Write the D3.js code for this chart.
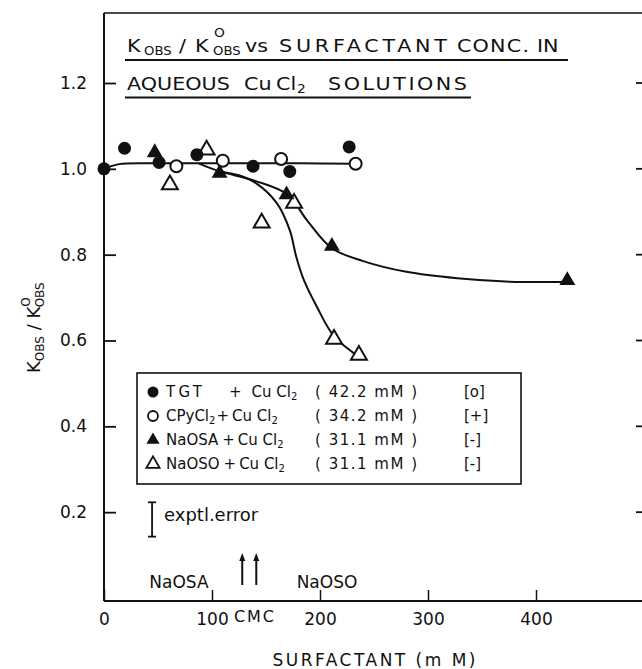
<!DOCTYPE html>
<html>
<head>
<meta charset="utf-8">
<script src="https://cdn.jsdelivr.net/npm/d3@7"></script>
<style>
  body { margin: 0; background: #fff; }
  svg { display: block; }
  text { font-family: "DejaVu Sans", sans-serif; fill: #111; }
</style>
</head>
<body>
<svg id="chart" width="642" height="669"></svg>
<script>
// Surfactant concentration (mM) and relative rate constant kobs / kobs°
const tgtConc  = [0, 19, 51, 86, 138, 172, 227];
const tgtRatio = [1.000, 1.048, 1.015, 1.033, 1.006, 0.994, 1.051];
const cpyConc  = [67, 110, 164, 233];
const cpyRatio = [1.006, 1.019, 1.023, 1.012];
const osaConc  = [47, 107, 169, 211, 429];
const osaRatio = [1.038, 0.990, 0.940, 0.820, 0.740];
const osoConc  = [61, 95, 146, 176, 213, 236];
const osoRatio = [0.963, 1.044, 0.874, 0.920, 0.603, 0.566];

// Hand-drawn trend curves
const flatConc    = [0, 14, 50, 120, 180, 233];
const flatRatio   = [1.000, 1.011, 1.013, 1.013, 1.013, 1.012];
const osaFitConc  = [88, 107, 140, 170, 188, 211, 240, 280, 327, 376, 429];
const osaFitRatio = [1.012, 0.994, 0.972, 0.940, 0.880, 0.815, 0.785, 0.760, 0.745, 0.737, 0.737];
const osoFitConc  = [107, 125, 141, 160, 172, 178, 185, 197, 213, 236];
const osoFitRatio = [0.994, 0.985, 0.966, 0.920, 0.857, 0.795, 0.741, 0.679, 0.610, 0.562];

// Critical micelle concentrations and experimental error
const cmcConc  = [128, 141];
const cmcNames = ["NaOSA", "NaOSO"];
const errConc = 44.5, errRatio = 0.183, errHalf = 0.040;

// Axis ticks
const xTicks = [0, 100, 200, 300, 400];
const yTicks = [0.2, 0.4, 0.6, 0.8, 1.0, 1.2];

// Legend
const legendNames  = ["TGT", "CPyCl", "NaOSA", "NaOSO"];
const legendConc   = ["42.2", "34.2", "31.1", "31.1"];
const legendCharge = ["[o]", "[+]", "[-]", "[-]"];

const svg = d3.select("#chart");
const x = d3.scaleLinear([0, 500], [104, 644]);
const y = d3.scaleLinear([0, 1.2], [598, 83]);
const yTop = 1.363, yBottom = -0.007;
const ink = "#111";

// Frame
const frame = svg.append("g").attr("stroke", ink).attr("fill", "none").attr("stroke-width", 2);
frame.append("line").attr("x1", x(0)).attr("x2", x(0)).attr("y1", y(yTop)).attr("y2", y(yBottom));
frame.append("line").attr("x1", x(0)).attr("x2", x(500)).attr("y1", y(yBottom)).attr("y2", y(yBottom));
frame.append("line").attr("x1", x(0)).attr("x2", x(500)).attr("y1", y(yTop)).attr("y2", y(yTop)).attr("stroke-width", 1.6);

// Left axis with inward ticks
const yAxis = svg.append("g").attr("transform", `translate(${x(0)},0)`)
  .call(d3.axisLeft(y).tickValues(yTicks).tickSize(-12).tickPadding(17).tickFormat(d3.format(".1f")));
yAxis.select(".domain").remove();
yAxis.selectAll(".tick line").attr("stroke", ink).attr("stroke-width", 1.8);
yAxis.selectAll(".tick text").attr("font-size", 17).attr("font-family", "DejaVu Sans").attr("fill", ink);

// Right-hand inward ticks
svg.append("g").selectAll("line").data(yTicks).join("line")
  .attr("x1", x(500) - 8).attr("x2", x(500)).attr("y1", d => y(d)).attr("y2", d => y(d))
  .attr("stroke", ink).attr("stroke-width", 1.8);

// Bottom axis
const xAxis = svg.append("g").attr("transform", `translate(0,${y(yBottom)})`)
  .call(d3.axisBottom(x).tickValues(xTicks).tickSize(-11).tickPadding(12).tickFormat(d3.format("d")));
xAxis.select(".domain").remove();
xAxis.selectAll(".tick line").attr("stroke", ink).attr("stroke-width", 1.5);
xAxis.selectAll(".tick text").attr("font-size", 17).attr("font-family", "DejaVu Sans").attr("fill", ink);

// Axis titles
svg.append("text").attr("x", x(250)).attr("y", 666).attr("text-anchor", "middle")
  .attr("font-size", 17).attr("textLength", 203).attr("lengthAdjust", "spacing")
  .text("SURFACTANT (m M)");

const yl = svg.append("text").attr("transform", `translate(40,${y(0.63)}) rotate(-90)`)
  .attr("text-anchor", "middle").attr("font-size", 18);
yl.append("tspan").text("K");
yl.append("tspan").attr("font-size", 12).attr("dy", 4).text("OBS");
yl.append("tspan").attr("dy", -4).text(" / K");
yl.append("tspan").attr("font-size", 12).attr("dy", -10).text("O");
yl.append("tspan").attr("font-size", 12).attr("dx", -10).attr("dy", 14).text("OBS");

// Title block: lettering widened horizontally, spaced out only where there is room
const stretch = 1.15;
function word(g, x0, y0, txt, size, len) {
  const t = g.append("text").attr("transform", `translate(${x0},${y0}) scale(${stretch},1)`)
    .attr("font-size", size).text(txt);
  if (len && t.node().getComputedTextLength() * stretch < len)
    t.attr("textLength", len / stretch).attr("lengthAdjust", "spacing");
  return t;
}
const title = svg.append("g");
word(title, 127, 52, "K", 18);
word(title, 144, 55, "OBS", 11.5, 24);
word(title, 179, 52, "/", 18);
word(title, 195, 52, "K", 18);
word(title, 214, 37, "O", 12);
word(title, 213, 55, "OBS", 11.5, 24);
word(title, 245, 52, "vs", 18);
word(title, 279, 52, "SURFACTANT", 18, 168);
word(title, 457, 52, "CONC.", 18, 72);
word(title, 537, 52, "IN", 18);
title.append("line").attr("x1", 125).attr("x2", 568).attr("y1", 60).attr("y2", 60)
  .attr("stroke", ink).attr("stroke-width", 2);

word(title, 127, 90, "AQUEOUS", 18, 100);
word(title, 244, 90, "Cu", 18);
word(title, 276, 90, "Cl", 18);
word(title, 297, 93, "2", 12);
word(title, 328, 90, "SOLUTIONS", 18, 139);
title.append("line").attr("x1", 125).attr("x2", 471).attr("y1", 97.5).attr("y2", 97.5)
  .attr("stroke", ink).attr("stroke-width", 2);

// Sequential text pieces
function chain(g, x0, y0, pieces) {
  let cx = x0;
  pieces.forEach(p => {
    const t = g.append("text").attr("x", cx).attr("y", y0 + (p.dy || 0))
      .attr("font-size", p.size).text(p.t);
    if (p.len) t.attr("textLength", p.len).attr("lengthAdjust", "spacing");
    cx += (p.len || t.node().getComputedTextLength()) + (p.gap || 0);
  });
  return cx;
}

// Trend curves
const curve = d3.line().x(d => x(d[0])).y(d => y(d[1])).curve(d3.curveCatmullRom.alpha(0.5));
const curves = svg.append("g").attr("fill", "none").attr("stroke", ink).attr("stroke-width", 2);
curves.append("path").attr("d", curve(d3.zip(flatConc, flatRatio)));
curves.append("path").attr("d", curve(d3.zip(osaFitConc, osaFitRatio)));
curves.append("path").attr("d", curve(d3.zip(osoFitConc, osoFitRatio)));

// Markers
const tri = d3.symbol(d3.symbolTriangle, 110);
const triSmall = d3.symbol(d3.symbolTriangle, 75);
const marks = svg.append("g");
marks.selectAll(".oso").data(d3.zip(osoConc, osoRatio)).join("path")
  .attr("d", tri).attr("transform", d => `translate(${x(d[0])},${y(d[1])})`)
  .attr("fill", "#fff").attr("stroke", ink).attr("stroke-width", 2);
marks.selectAll(".osa").data(d3.zip(osaConc, osaRatio)).join("path")
  .attr("d", tri).attr("transform", d => `translate(${x(d[0])},${y(d[1])})`)
  .attr("fill", ink);
marks.selectAll(".cpy").data(d3.zip(cpyConc, cpyRatio)).join("circle")
  .attr("cx", d => x(d[0])).attr("cy", d => y(d[1])).attr("r", 6)
  .attr("fill", "#fff").attr("stroke", ink).attr("stroke-width", 2);
marks.selectAll(".tgt").data(d3.zip(tgtConc, tgtRatio)).join("circle")
  .attr("cx", d => x(d[0])).attr("cy", d => y(d[1])).attr("r", 6.5)
  .attr("fill", ink);

// Legend
const lg = svg.append("g");
lg.append("rect").attr("x", 137).attr("y", 373).attr("width", 384).attr("height", 111)
  .attr("fill", "#fff").attr("stroke", ink).attr("stroke-width", 1.6);
legendNames.forEach((name, i) => {
  const cy = 392 + i * 24;
  const base = cy + 5;
  if (i === 0) lg.append("circle").attr("cx", 153).attr("cy", cy).attr("r", 5.5).attr("fill", ink);
  if (i === 1) lg.append("circle").attr("cx", 153).attr("cy", cy).attr("r", 5).attr("fill", "none").attr("stroke", ink).attr("stroke-width", 1.8);
  if (i === 2) lg.append("path").attr("d", triSmall).attr("transform", `translate(153,${cy})`).attr("fill", ink);
  if (i === 3) lg.append("path").attr("d", triSmall).attr("transform", `translate(153,${cy})`).attr("fill", "none").attr("stroke", ink).attr("stroke-width", 1.8);
  let pieces;
  if (i === 0) pieces = [{t: "TGT", size: 15, len: 36}];
  else if (i === 1) pieces = [{t: "CPyCl", size: 15, gap: 0}, {t: "2", size: 10, dy: 3, gap: 1}];
  else pieces = [{t: name, size: 15, gap: 4}];
  let cx = chain(lg, 166, base, pieces);
  if (i === 0) cx = 229;
  chain(lg, cx, base, [
    {t: "+", size: 15, gap: i === 0 ? 10 : 3},
    {t: "Cu Cl", size: 15, gap: 0},
    {t: "2", size: 10, dy: 3}
  ]);
  lg.append("text").attr("x", 315).attr("y", base).attr("font-size", 15)
    .attr("textLength", 102).attr("lengthAdjust", "spacing")
    .text(`( ${legendConc[i]}  mM )`);
  lg.append("text").attr("x", 464).attr("y", base).attr("font-size", 15).text(legendCharge[i]);
});

// Experimental error bar
const eb = svg.append("g").attr("stroke", ink).attr("stroke-width", 1.8);
eb.append("line").attr("x1", x(errConc)).attr("x2", x(errConc)).attr("y1", y(errRatio + errHalf)).attr("y2", y(errRatio - errHalf));
[errRatio + errHalf, errRatio - errHalf].forEach(v =>
  eb.append("line").attr("x1", x(errConc) - 4).attr("x2", x(errConc) + 4).attr("y1", y(v)).attr("y2", y(v)));
svg.append("text").attr("x", 164).attr("y", 521).attr("font-size", 18).text("exptl.error");

// CMC arrows
const arrows = svg.append("g");
cmcConc.forEach(c => {
  arrows.append("line").attr("x1", x(c)).attr("x2", x(c)).attr("y1", 585).attr("y2", 558)
    .attr("stroke", ink).attr("stroke-width", 2);
  arrows.append("path").attr("d", `M${x(c) - 3},${561} L${x(c)},${553} L${x(c) + 3},${561} Z`).attr("fill", ink);
});
svg.append("text").attr("x", 179).attr("y", 588).attr("text-anchor", "middle").attr("font-size", 17).text(cmcNames[0]);
svg.append("text").attr("x", 327).attr("y", 588).attr("text-anchor", "middle").attr("font-size", 17).text(cmcNames[1]);
svg.append("text").attr("x", 254).attr("y", 622).attr("text-anchor", "middle").attr("font-size", 16)
  .attr("textLength", 40).attr("lengthAdjust", "spacing").text("CMC");
</script>
</body>
</html>
